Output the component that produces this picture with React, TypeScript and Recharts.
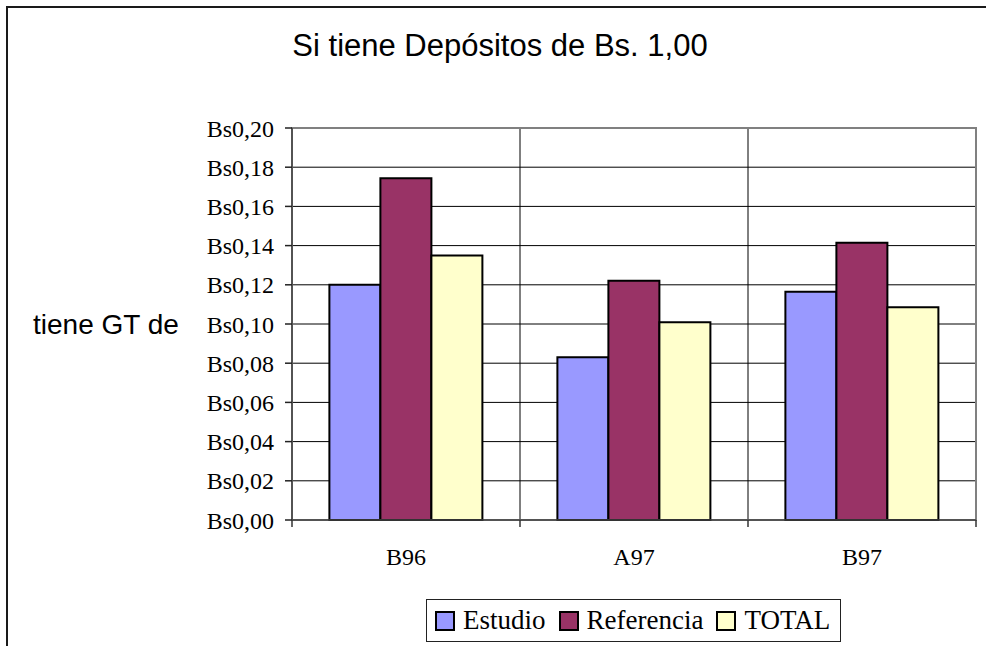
import React from 'react'
import {
  BarChart,
  Bar,
  XAxis,
  YAxis,
  CartesianGrid,
  Legend,
  ReferenceArea,
} from 'recharts'

const categories = ['B96', 'A97', 'B97']
const estudio = [0.12, 0.083, 0.1165]
const referencia = [0.1743, 0.1221, 0.1415]
const total = [0.135, 0.1009, 0.1085]
const yTicks = [0, 0.02, 0.04, 0.06, 0.08, 0.1, 0.12, 0.14, 0.16, 0.18, 0.2]

const series = [
  { key: 'estudio', name: 'Estudio', color: '#9999FF' },
  { key: 'referencia', name: 'Referencia', color: '#993366' },
  { key: 'total', name: 'TOTAL', color: '#FFFFCC' },
]

const data = categories.map((c, i) => ({
  name: c,
  estudio: estudio[i],
  referencia: referencia[i],
  total: total[i],
}))

const W = 986
const H = 646
const margin = { top: 128, right: 10, bottom: 66, left: 0 }
const yAxisWidth = 292
const plotWidth = W - margin.left - margin.right - yAxisWidth
const halfBand = plotWidth / categories.length / 2

const SERIF = '"Liberation Serif", "Times New Roman", serif'
const SANS = '"Liberation Sans", Arial, sans-serif'

const fmt = (v: number) => 'Bs' + v.toFixed(2).replace('.', ',')

function CatTick(props: any) {
  const { x, y, payload, index } = props
  return (
    <g>
      <line x1={x - halfBand} x2={x - halfBand} y1={y} y2={y + 7} stroke="#333" strokeWidth={1.5} />
      {index === categories.length - 1 && (
        <line x1={x + halfBand} x2={x + halfBand} y1={y} y2={y + 7} stroke="#333" strokeWidth={1.5} />
      )}
      <text x={x} y={y + 45} textAnchor="middle" fontFamily={SERIF} fontSize={24} fill="#000">
        {payload.value}
      </text>
    </g>
  )
}

function LegendBox() {
  return (
    <div
      style={{
        border: '1.5px solid #222',
        height: 43,
        display: 'flex',
        alignItems: 'center',
        padding: '0 10px 0 8px',
        boxSizing: 'border-box',
        fontFamily: SERIF,
        fontSize: 27,
        color: '#000',
        whiteSpace: 'nowrap',
        background: '#fff',
      }}
    >
      {series.map((s, i) => (
        <span key={s.key} style={{ display: 'flex', alignItems: 'center', marginRight: i < series.length - 1 ? 13 : 0 }}>
          <span
            style={{
              display: 'inline-block',
              width: 16,
              height: 16,
              background: s.color,
              border: '2px solid #000',
              marginRight: 8,
            }}
          />
          {s.name}
        </span>
      ))}
    </div>
  )
}

export default function App() {
  return (
    <div style={{ position: 'absolute', left: 0, top: 0, width: W, height: H, overflow: 'hidden', background: '#fff' }}>
      <div
        style={{
          position: 'absolute',
          left: 6,
          top: 6,
          width: W + 20,
          height: H + 20,
          border: '2px solid #1a1a1a',
        }}
      />
      <div
        style={{
          position: 'absolute',
          left: 0,
          width: 1000,
          top: 28,
          textAlign: 'center',
          fontFamily: SANS,
          fontSize: 31,
          color: '#000',
        }}
      >
        Si tiene Depósitos de Bs. 1,00
      </div>
      <div style={{ position: 'absolute', left: 0, top: 0 }}>
        <BarChart width={W} height={H} data={data} margin={margin} barCategoryGap="16.4%" barGap={0}>
          <CartesianGrid
            stroke="#000"
            strokeWidth={1}
            verticalCoordinatesGenerator={({ offset }: any) =>
              categories.map((_, i) => offset.left + (offset.width * i) / categories.length)
            }
          />
          <ReferenceArea y1={0} y2={0.2} fill="none" stroke="#808080" strokeWidth={2} ifOverflow="visible" />
          <XAxis
            dataKey="name"
            height={60}
            tickLine={false}
            tickSize={0}
            tickMargin={0}
            axisLine={{ stroke: '#444', strokeWidth: 1.5 }}
            tick={<CatTick />}
            interval={0}
          />
          <YAxis
            width={yAxisWidth}
            domain={[0, 0.2]}
            ticks={yTicks}
            interval={0}
            tickFormatter={fmt}
            tickSize={7}
            tickMargin={11}
            tickLine={{ stroke: '#222', strokeWidth: 1.5 }}
            axisLine={{ stroke: '#444', strokeWidth: 1.5 }}
            tick={{ fontFamily: SERIF, fontSize: 24, fill: '#000' }}
            label={{
              value: 'tiene GT de',
              position: 'insideLeft',
              offset: 33,
              angle: 0,
              style: { fontFamily: SANS, fontSize: 28, fill: '#000', textAnchor: 'start' },
            }}
          />
          <Legend
            layout="horizontal"
            verticalAlign="middle"
            align="center"
            wrapperStyle={{ left: 426, top: 599, width: 'auto' }}
            content={<LegendBox />}
          />
          {series.map((s) => (
            <Bar
              key={s.key}
              dataKey={s.key}
              name={s.name}
              fill={s.color}
              stroke="#000"
              strokeWidth={2}
              isAnimationActive={false}
            />
          ))}
        </BarChart>
      </div>
    </div>
  )
}
